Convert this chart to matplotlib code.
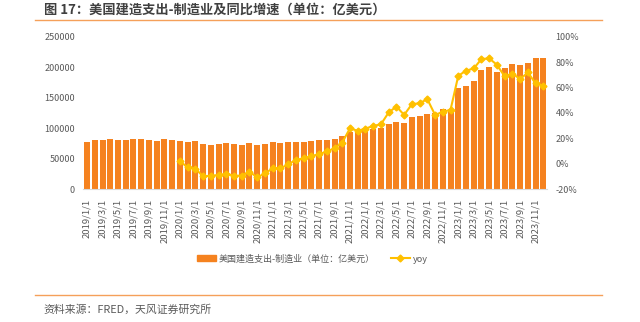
import matplotlib
matplotlib.use("Agg")
import matplotlib.pyplot as plt
from matplotlib.lines import Line2D
from matplotlib.ticker import FuncFormatter

plt.rcParams['font.family'] = ['Noto Sans CJK SC', 'DejaVu Sans']

# months 2019/1 .. 2023/12
months = ["%d/%d/1" % (y, m) for y in range(2019, 2024) for m in range(1, 13)]

spend = [
    76600, 80400, 81000, 82000, 80400, 81000, 81500, 81500, 80400, 79300, 82000, 80400,
    78800, 77700, 78200, 73800, 72800, 73800, 75500, 73800, 72800, 75500, 72800, 74400,
    76600, 75500, 77700, 76600, 76400, 78800, 80400, 81000, 81500, 87000, 93000, 95200,
    96300, 98500, 100600, 107200, 110000, 108900, 117600, 119800, 122500, 124700, 131300, 130200,
    165200, 169000, 177200, 195300, 200700, 192500, 198000, 204600, 203500, 207300, 214500, 214500,
]

yoy = [None] * 12 + [
    2.0, -3.0, -4.0, -10.0, -9.5, -9.0, -8.0, -9.5, -9.5, -6.4, -10.8, -7.7,
    -3.7, -3.7, -0.6, 3.0, 4.1, 6.0, 7.4, 9.6, 12.1, 16.6, 27.9, 25.8,
    27.6, 29.7, 31.0, 40.3, 45.0, 38.4, 46.8, 47.6, 50.8, 38.4, 40.8, 42.4,
    69.2, 73.2, 75.0, 82.4, 82.9, 77.9, 68.7, 71.0, 66.6, 71.8, 63.2, 61.3,
]

bar_color = "#F5821F"
line_color = "#FFC000"
text_color = "#595959"

fig = plt.figure(figsize=(6.4, 3.22), dpi=100)
ax = fig.add_axes([0.130, 0.413, 0.725, 0.473])

x = list(range(len(months)))
ax.bar(x, spend, width=0.78, color=bar_color, zorder=2)
ax.set_xlim(-0.5, len(months) - 0.5)
ax.set_ylim(0, 250000)
ax.set_yticks(range(0, 250001, 50000))
ax.set_xticks(x[::2])
ax.set_xticklabels(months[::2], rotation=90, fontsize=6.8, color=text_color)
ax.tick_params(axis='y', labelsize=6.5, colors=text_color, length=0, pad=6)
ax.tick_params(axis='x', length=0, pad=7)
for s in ["top", "right", "left"]:
    ax.spines[s].set_visible(False)
ax.spines["bottom"].set_color("#D9D9D9")

ax2 = ax.twinx()
xs = [i for i, v in enumerate(yoy) if v is not None]
ys = [v for v in yoy if v is not None]
ax2.plot(xs, ys, color=line_color, lw=1.5, marker="D", ms=3.5, zorder=3)
ax2.set_ylim(-20, 100)
ax2.set_yticks(range(-20, 101, 20))
ax2.yaxis.set_major_formatter(FuncFormatter(lambda v, p: "%d%%" % v))
ax2.tick_params(axis='y', labelsize=6.5, colors=text_color, length=0, pad=6)
for s in ax2.spines.values():
    s.set_visible(False)

# legend
handles = [
    plt.Rectangle((0, 0), 1, 1, color=bar_color),
    Line2D([0], [0], color=line_color, lw=1.5, marker="D", ms=3.5),
]
fig.legend(handles, ["美国建造支出-制造业（单位：亿美元）", "yoy"], loc="center",
           bbox_to_anchor=(0.488, 0.196), ncol=2, frameon=False, fontsize=6.5,
           labelcolor=text_color, handlelength=2.1, handleheight=0.6,
           columnspacing=1.8, handletextpad=0.3)

# title and source
fig.text(0.068, 0.971, "图 17：美国建造支出-制造业及同比增速（单位：亿美元）",
         fontsize=9.5, color="#404040", va="center", fontweight="bold")
fig.add_artist(Line2D([0.055, 0.94], [0.938, 0.938], color="#F5A05A", lw=1.0))
fig.add_artist(Line2D([0.055, 0.94], [0.084, 0.084], color="#F5A05A", lw=1.0))
fig.text(0.068, 0.040, "资料来源：FRED，天风证券研究所", fontsize=7.8, color=text_color,
         va="center")

fig.savefig("out.png", dpi=100)
